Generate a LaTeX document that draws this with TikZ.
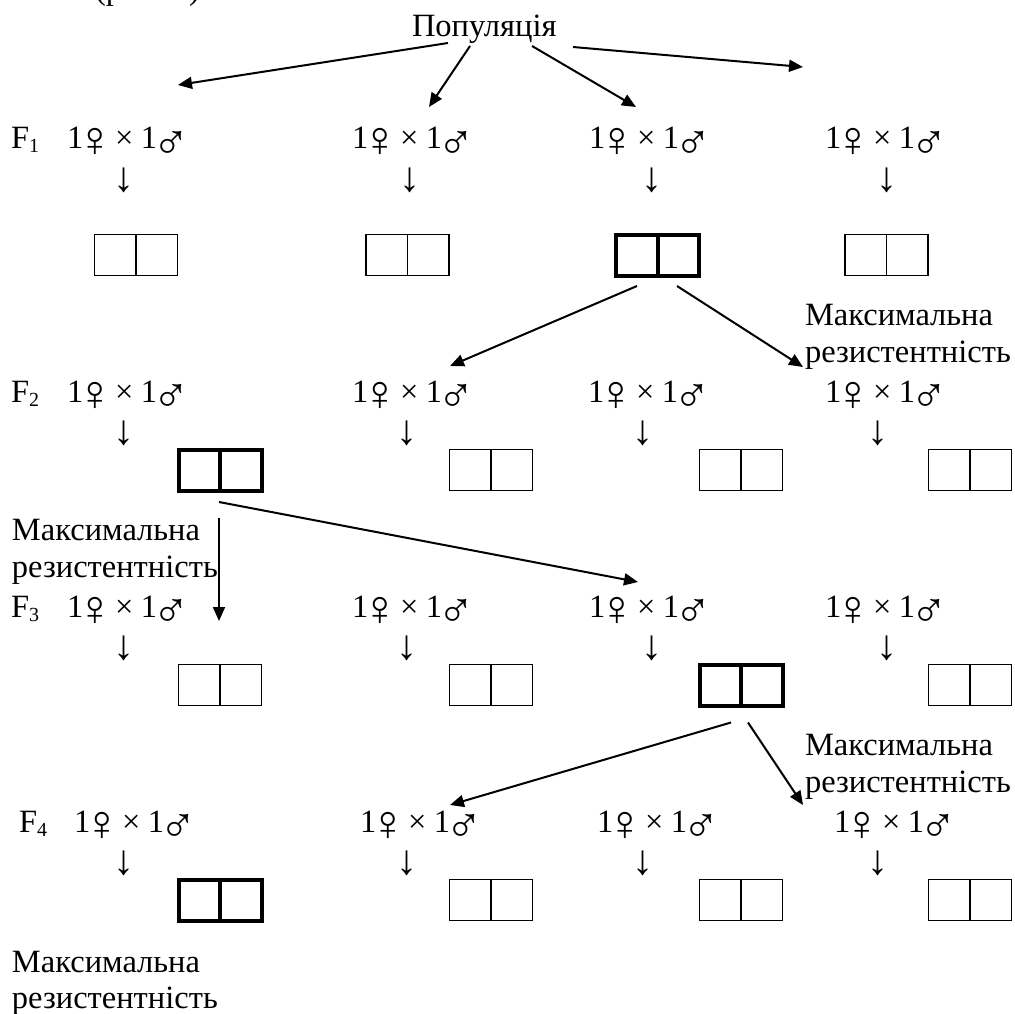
\documentclass[tikz,border=0pt]{standalone}
\usepackage{fontspec}
\setmainfont{Liberation Serif}
\usetikzlibrary{arrows.meta,calc}
\newcommand\gensub[1]{\raisebox{-4pt}{\fontsize{20}{20}\selectfont #1}}
\newcommand\fem{\kern-7pt\raisebox{-8pt}{\fontsize{50}{50}\selectfont ♀}\kern-4pt}
\newcommand\mal{\kern-5pt\raisebox{-10pt}{\fontsize{50}{50}\selectfont ♂}}
\newcommand\cross{1\fem\,×\,\kern2pt 1\mal}
\begin{document}
\begin{tikzpicture}[x=1pt,y=-1pt,
  txt/.style={inner sep=0pt, outer sep=0pt, anchor=base west, font=\fontsize{32.5}{37}\selectfont},
  dn/.style={inner sep=0pt, outer sep=0pt, anchor=base, font=\fontsize{42}{42}\selectfont},
  cell/.style={draw, line width=1.5pt, minimum width=83pt, minimum height=41pt, inner sep=0pt},
  boldcell/.style={cell, line width=4pt},
  conn/.style={line width=2pt, -{Triangle[length=14pt,width=12pt]}}]
\useasboundingbox (0,0) rectangle (1014,1014);

% cut-off caption at the top
\node[txt] (cap) at (95,-0.5) {(рис. 1)};

\node[txt] (pop) at (412,37) {Популяція};

% generation labels
\node[txt] (F1) at (11,149) {F\gensub{1}};
\node[txt] (F2) at (11,402) {F\gensub{2}};
\node[txt] (F3) at (11,617) {F\gensub{3}};
\node[txt] (F4) at (19,832) {F\gensub{4}};

% crosses
\foreach \r/\y/\a/\b/\c/\d in {1/149/67/352/589/825, 2/402/67/352/588/825, 3/617/67/352/589/825, 4/832/74/360/597/834}{
  \node[txt] (t\r1) at (\a,\y) {\cross};
  \node[txt] (t\r2) at (\b,\y) {\cross};
  \node[txt] (t\r3) at (\c,\y) {\cross};
  \node[txt] (t\r4) at (\d,\y) {\cross};
}

% down arrows (text glyphs)
\foreach \r/\y/\a/\b/\c/\d in {1/191/124/410/652/887, 2/444/124/407/643/878, 3/659/124/407/652/887, 4/874/124/407/643/878}{
  \node[dn] (d\r1) at (\a,\y) {↓};
  \node[dn] (d\r2) at (\b,\y) {↓};
  \node[dn] (d\r3) at (\c,\y) {↓};
  \node[dn] (d\r4) at (\d,\y) {↓};
}

% boxes
\foreach \n/\x/\y/\s in {11/136/255/cell, 12/407.5/255/cell, 13/657.5/255/boldcell, 14/886.5/255/cell,
  21/220/470/boldcell, 22/491/470/cell, 23/741/470/cell, 24/970/470/cell,
  31/220/685/cell, 32/491/685/cell, 33/741/685/boldcell, 34/970/685/cell,
  41/220/900/boldcell, 42/491/900/cell, 43/741/900/cell, 44/970/900/cell}{
  \node[\s] (b\n) at (\x,\y) {};
  \draw[\s, draw] (b\n.north) -- (b\n.south);
}

% labels
\node[txt] (m2a) at (805,325) {Максимальна};
\node[txt] (m2b) at (805,362) {резистентність};
\node[txt] (m3a) at (12,540) {Максимальна};
\node[txt] (m3b) at (12,577) {резистентність};
\node[txt] (m4a) at (805,755) {Максимальна};
\node[txt] (m4b) at (805,792) {резистентність};
\node[txt] (m5a) at (12,972) {Максимальна};
\node[txt] (m5b) at (12,1008) {резистентність};

% free ends
\coordinate (e1) at (178,85);
\coordinate (e2) at (429,107);
\coordinate (e3) at (636,107);
\coordinate (e4) at (803,67);
\coordinate (e5) at (450,366);
\coordinate (e6) at (803,367);
\coordinate (e7) at (219,621);
\coordinate (e8) at (638,582);
\coordinate (e9) at (450,805);
\coordinate (e10) at (803,805);

% connectors
\draw[conn] ($(pop.base west)+(36,6)$) -- (e1);
\draw[conn] ($(pop.base west)+(58,9)$) -- (e2);
\draw[conn] ($(pop.base west)+(120,9)$) -- (e3);
\draw[conn] ($(pop.base west)+(161,10)$) -- (e4);
\draw[conn] ($(b13.south)+(-20.5,8.5)$) -- (e5);
\draw[conn] ($(b13.south)+(19.5,8.5)$) -- (e6);
\draw[conn] ($(b21.south)+(-1,25.5)$) -- (e7);
\draw[conn] ($(b21.south)+(-1,9.5)$) -- (e8);
\draw[conn] ($(b33.south)+(-10,15)$) -- (e9);
\draw[conn] ($(b33.south)+(7,15)$) -- (e10);
\end{tikzpicture}
\end{document}
